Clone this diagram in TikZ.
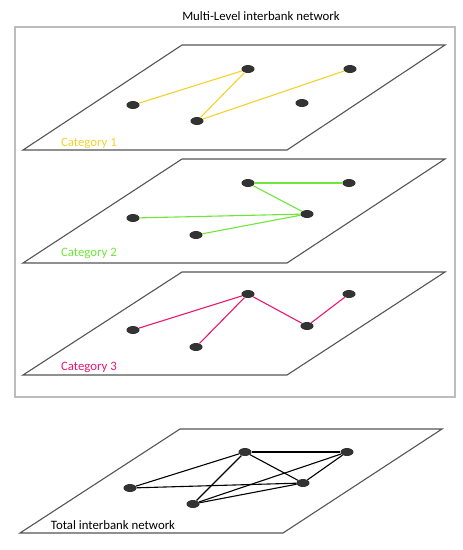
\documentclass[tikz,border=0pt]{standalone}
\usepackage{fontspec}
\setmainfont{Carlito}
\usetikzlibrary{shapes.geometric}

\definecolor{catone}{HTML}{F2D22E}
\definecolor{cattwo}{HTML}{6FE63A}
\definecolor{catthree}{HTML}{E8176F}
\definecolor{bankgray}{HTML}{333333}
\definecolor{planegray}{HTML}{555555}
\definecolor{framegray}{HTML}{BDBDBD}

\tikzset{
  bank/.style={ellipse, fill=bankgray, minimum width=13pt, minimum height=8pt, inner sep=0pt},
  plane/.style={draw=planegray, line width=1.1pt},
  linkone/.style={catone, line width=1.1pt},
  linktwo/.style={cattwo, line width=1.1pt},
  linkthree/.style={catthree, line width=1.1pt},
  linktotal/.style={black, line width=1.1pt},
  lbl/.style={font=\fontsize{12.8}{14}\selectfont, inner sep=0pt}
}

\begin{document}
\begin{tikzpicture}[x=1pt, y=-1pt]
				\useasboundingbox (0,0) rectangle (463,550);
				
				\node[lbl] (title) at (261,16) {Multi-Level interbank network};
				\draw[framegray, line width=1.4pt] (15,27) rectangle (455,397);
				
				% category 1
				\draw[plane] (182,45) -- (445,45) -- (287,150) -- (23,150) -- cycle;
				\node[bank] (a1) at (248,69) {};
				\node[bank] (a2) at (350,69) {};
				\node[bank] (a3) at (133,105) {};
				\node[bank] (a4) at (302,103) {};
				\node[bank] (a5) at (197,121) {};
				\draw[linkone] (a3) -- (a1);
				\draw[linkone] (a1) -- (a5);
				\draw[linkone] (a5) -- (a2);
				\node[lbl, text=catone] (c1) at (89,143) {Category 1};
				
				% category 2
				\draw[plane] (182,159) -- (445,159) -- (287,263) -- (23,263) -- cycle;
				\node[bank] (b1) at (248,183) {};
				\node[bank] (b2) at (349,183) {};
				\node[bank] (b3) at (133,218) {};
				\node[bank] (b4) at (307,214) {};
				\node[bank] (b5) at (196,235) {};
				\draw[linktwo] (b1) -- (b2);
				\draw[linktwo] (b1) -- (b4);
				\draw[linktwo] (b3) -- (b4);
				\draw[linktwo] (b5) -- (b4);
				\node[lbl, text=cattwo] (c2) at (89,253) {Category 2};
				
				% category 3
				\draw[plane] (182,272) -- (445,272) -- (287,375) -- (23,375) -- cycle;
				\node[bank] (d1) at (248,294) {};
				\node[bank] (d2) at (349,294) {};
				\node[bank] (d3) at (133,330) {};
				\node[bank] (d4) at (307,326) {};
				\node[bank] (d5) at (196,347) {};
				\draw[linkthree] (d3) -- (d1);
				\draw[linkthree] (d1) -- (d5);
				\draw[linkthree] (d1) -- (d4);
				\draw[linkthree] (d4) -- (d2);
				\node[lbl, text=catthree] (c3) at (89,367) {Category 3};
				
				% total
				\draw[plane] (180,429) -- (442,429) -- (283,533) -- (20,533) -- cycle;
				\node[bank] (t1) at (245,452) {};
				\node[bank] (t2) at (347,452) {};
				\node[bank] (t3) at (130,488) {};
				\node[bank] (t4) at (303,483) {};
				\node[bank] (t5) at (193,504) {};
				\draw[linktotal] (t3) -- (t1);
				\draw[linktotal] (t3) -- (t4);
				\draw[linktotal] (t1) -- (t2);
				\draw[linktotal] (t1) -- (t4);
				\draw[linktotal] (t1) -- (t5);
				\draw[linktotal] (t2) -- (t4);
				\draw[linktotal] (t2) -- (t5);
				\draw[linktotal] (t5) -- (t4);
				\node[lbl] (tot) at (113,525) {Total interbank network};
				\end{tikzpicture}
\end{document}
